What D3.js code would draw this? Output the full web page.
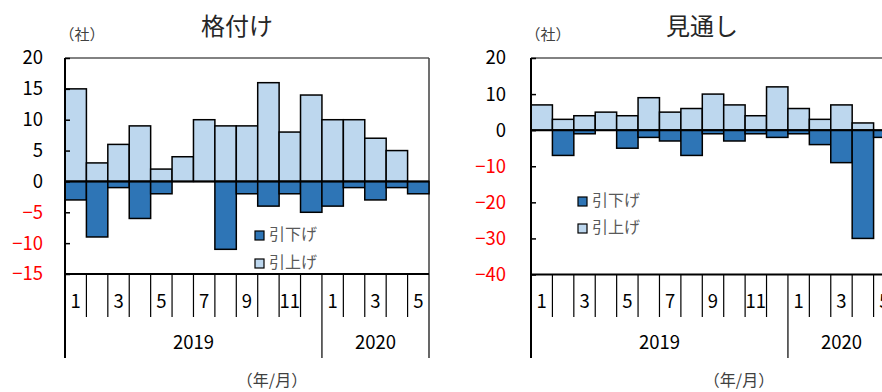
<!DOCTYPE html>
<html>
<head>
<meta charset="utf-8">
<script src="https://cdn.jsdelivr.net/npm/d3@7"></script>
<style>
  html, body { margin: 0; padding: 0; background: #fff; }
  svg { display: block; font-family: "Noto Sans CJK JP", "Noto Sans", sans-serif; }
</style>
</head>
<body>
<svg id="chart" width="882" height="392"></svg>
<script>
// Months: Jan 2019 – May 2020
const months = ["2019-01","2019-02","2019-03","2019-04","2019-05","2019-06","2019-07","2019-08","2019-09","2019-10","2019-11","2019-12","2020-01","2020-02","2020-03","2020-04","2020-05"];
const monthLabels = ["1","","3","","5","","7","","9","","11","","1","","3","","5"];
const years = [{ label: "2019", from: 0, to: 12 }, { label: "2020", from: 12, to: 17 }];

// 格付け (rating actions, number of companies)
const ratingUp   = [15, 3, 6, 9, 2, 4, 10, 9, 9, 16, 8, 14, 10, 10, 7, 5, 0];
const ratingDown = [-3, -9, -1, -6, -2, 0, 0, -11, -2, -4, -2, -5, -4, -1, -3, -1, -2];
const ratingTicks = [-15, -10, -5, 0, 5, 10, 15, 20];

// 見通し (outlook changes, number of companies)
const outlookUp   = [7, 3, 4, 5, 4, 9, 5, 6, 10, 7, 4, 12, 6, 3, 7, 2, 0];
const outlookDown = [0, -7, -1, 0, -5, -2, -3, -7, -1, -3, -1, -2, -1, -4, -9, -30, -2];
const outlookTicks = [-40, -30, -20, -10, 0, 10, 20];

const seriesNames = ["引下げ", "引上げ"];
const colorUp = "#BDD7EE";
const colorDown = "#2E75B6";

const svg = d3.select("#chart");

function panel(opt) {
  const g = svg.append("g");
  const x = d3.scaleBand().domain(months).range([opt.left, opt.left + 364]).padding(0);
  const y = d3.scaleLinear().domain([opt.ticks[0], opt.ticks[opt.ticks.length - 1]]).range([opt.bottom, opt.top]);
  const bw = x.bandwidth();

  // plot frame (top / right)
  g.append("line").attr("x1", opt.left).attr("x2", opt.left + 364).attr("y1", opt.top).attr("y2", opt.top)
    .attr("stroke", "#595959").attr("stroke-width", 1.5);
  g.append("line").attr("x1", opt.left + 364).attr("x2", opt.left + 364).attr("y1", opt.top).attr("y2", opt.bottom)
    .attr("stroke", "#404040").attr("stroke-width", 1.5);

  // upgrade bars
  g.selectAll(".up").data(opt.up.map((v, i) => ({ m: months[i], v })).filter(d => d.v !== 0))
    .join("rect")
    .attr("x", d => x(d.m)).attr("width", bw)
    .attr("y", d => y(d.v)).attr("height", d => y(0) - y(d.v))
    .attr("fill", colorUp).attr("stroke", "#000").attr("stroke-width", 1.5);

  // downgrade bars
  g.selectAll(".down").data(opt.down.map((v, i) => ({ m: months[i], v })).filter(d => d.v !== 0))
    .join("rect")
    .attr("x", d => x(d.m)).attr("width", bw)
    .attr("y", y(0)).attr("height", d => y(d.v) - y(0))
    .attr("fill", colorDown).attr("stroke", "#000").attr("stroke-width", 1.5);

  // zero line
  g.append("line").attr("x1", opt.left).attr("x2", opt.left + 364).attr("y1", y(0)).attr("y2", y(0))
    .attr("stroke", "#000").attr("stroke-width", 2);

  // value axis
  const yAxis = g.append("g").attr("transform", `translate(${opt.left},0)`)
    .call(d3.axisLeft(y).tickValues(opt.ticks).tickSize(-5).tickPadding(opt.labelGap).tickFormat(d3.format("d")));
  yAxis.select(".domain").remove();
  yAxis.selectAll(".tick line").attr("stroke", "#000").attr("stroke-width", 1.5);
  yAxis.selectAll(".tick text")
    .attr("font-size", 18.5).attr("font-family", "'Noto Sans CJK JP', sans-serif")
    .attr("fill", d => d < 0 ? "#FF0000" : "#000");

  // left axis line, extended down through the category rows
  g.append("line").attr("x1", opt.left).attr("x2", opt.left).attr("y1", opt.top).attr("y2", 358)
    .attr("stroke", "#000").attr("stroke-width", 2);

  // bottom edge of plot
  g.append("line").attr("x1", opt.left).attr("x2", opt.left + 364).attr("y1", opt.bottom).attr("y2", opt.bottom)
    .attr("stroke", "#000").attr("stroke-width", 2);

  // category axis: month dividers and labels
  months.forEach((m, i) => {
    const xr = x(m) + bw;
    const isYearEnd = years.some(yr => yr.to === i + 1);
    g.append("line").attr("x1", xr).attr("x2", xr).attr("y1", opt.bottom).attr("y2", isYearEnd ? 358 : 317)
      .attr("stroke", "#000").attr("stroke-width", 1.2);
    if (monthLabels[i]) {
      g.append("text").attr("x", x(m) + bw / 2).attr("y", 303)
        .attr("text-anchor", "middle").attr("dominant-baseline", "middle")
        .attr("font-size", 18.5).attr("fill", "#000").text(monthLabels[i]);
    }
  });
  years.forEach(yr => {
    const x0 = x(months[yr.from]);
    const x1 = x(months[yr.to - 1]) + bw;
    g.append("text").attr("x", (x0 + x1) / 2).attr("y", 344)
      .attr("text-anchor", "middle").attr("dominant-baseline", "middle")
      .attr("font-size", 18.5).attr("fill", "#000").text(yr.label);
  });

  // titles and unit labels
  g.append("text").attr("x", opt.titleX).attr("y", 28).attr("text-anchor", "middle")
    .attr("dominant-baseline", "middle").attr("font-size", 24).attr("fill", "#262626").text(opt.title);
  g.append("text").attr("x", opt.unitX).attr("y", 36).attr("text-anchor", "middle")
    .attr("dominant-baseline", "middle").attr("font-size", 15).attr("fill", "#404040").text("（社）");
  g.append("text").attr("x", opt.axisTitleX).attr("y", 382).attr("text-anchor", "middle")
    .attr("dominant-baseline", "middle").attr("font-size", 16).attr("fill", "#404040").text("（年/月）");

  // legend
  [colorDown, colorUp].forEach((c, i) => {
    const cy = opt.legendY + i * opt.legendStep;
    g.append("rect").attr("x", opt.legendX).attr("y", cy - 4.5).attr("width", 9).attr("height", 9)
      .attr("fill", c).attr("stroke", "#000").attr("stroke-width", 1.2);
    g.append("text").attr("x", opt.legendX + 14).attr("y", cy).attr("dominant-baseline", "middle")
      .attr("font-size", 16).attr("fill", "#595959").text(seriesNames[i]);
  });
}

panel({
  left: 65, top: 58, bottom: 274, ticks: ratingTicks, up: ratingUp, down: ratingDown, labelGap: 22,
  title: "格付け", titleX: 237, unitX: 82, axisTitleX: 272,
  legendX: 255, legendY: 235.5, legendStep: 28
});
panel({
  left: 531, top: 58, bottom: 274.5, ticks: outlookTicks, up: outlookUp, down: outlookDown, labelGap: 25,
  title: "見通し", titleX: 702, unitX: 548, axisTitleX: 739,
  legendX: 578, legendY: 201.5, legendStep: 27
});
</script>
</body>
</html>
